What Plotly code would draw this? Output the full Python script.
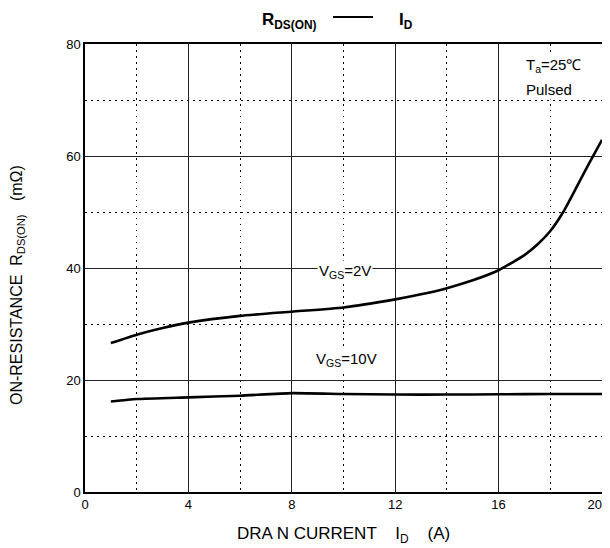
import plotly.graph_objects as go

# Data
id_2v = [1, 2, 3, 4, 6, 8, 10, 12, 13, 14, 15, 16, 16.5, 17, 17.5, 18, 18.5, 19, 19.5, 20]
r_2v = [26.6, 28.1, 29.3, 30.25, 31.45, 32.2, 32.95, 34.4, 35.3, 36.4, 37.8, 39.6, 40.9,
        42.3, 44.2, 46.6, 50.0, 54.3, 58.7, 62.9]
id_10v = [1, 2, 4, 6, 8, 10, 12, 14, 16, 18, 20]
r_10v = [16.15, 16.6, 16.9, 17.2, 17.65, 17.5, 17.4, 17.4, 17.45, 17.5, 17.5]
x_ticks = [0, 4, 8, 12, 16, 20]
x_tick_labels = ["0", "4", "8", "12", "16", "20\u00a0\u00a0\u00a0\u00a0"]
x_minor = [2, 6, 10, 14, 18]
y_ticks = [0, 20, 40, 60, 80]
y_tick_labels = ["0", "20", "40", "60", "80"]
y_minor = [10, 30, 50, 70]

FONT = "Liberation Sans, Arial, sans-serif"
DOT = "1.5px,4.5px"

fig = go.Figure()
for xs, ys in [(id_2v, r_2v), (id_10v, r_10v)]:
    fig.add_trace(go.Scatter(x=xs, y=ys, mode="lines",
                             line=dict(color="black", width=2.6, shape="spline", smoothing=0.5),
                             showlegend=False, hoverinfo="skip"))

axis_common = dict(
    showline=True, linecolor="black", linewidth=1.5, mirror=True, automargin=False,
    showgrid=True, gridcolor="#222", gridwidth=1.2,
    zeroline=False, ticks="", tickfont=dict(family=FONT, size=13, color="black"),
)
fig.update_xaxes(range=[0, 20], tickvals=x_ticks, ticktext=x_tick_labels,
                 ticklabeloverflow="allow",
                 minor=dict(tickvals=x_minor, showgrid=True, gridcolor="black",
                            griddash=DOT, gridwidth=1.2),
                 **axis_common)
fig.update_yaxes(range=[0, 80], tickvals=y_ticks, ticktext=y_tick_labels,
                 minor=dict(tickvals=y_minor, showgrid=True, gridcolor="black",
                            griddash=DOT, gridwidth=1.2),
                 **axis_common)

# in-plot labels
annots = [
    dict(x=10.06, y=39.3, text="V<sub>GS</sub>=2V"),
    dict(x=10.1, y=23.6, text="V<sub>GS</sub>=10V"),
    dict(x=18.14, y=76.2, text="T<sub>a</sub>=25℃"),
    dict(x=17.95, y=71.8, text="Pulsed"),
]
for a in annots:
    fig.add_annotation(x=a["x"], y=a["y"], xref="x", yref="y", text=a["text"], showarrow=False,
                       bgcolor="white", borderpad=1,
                       font=dict(family=FONT, size=15, color="black"))

# axis titles
fig.add_annotation(xref="paper", yref="paper", x=0, y=0.462, xshift=-68, xanchor="center",
                   yanchor="middle", textangle=-90, showarrow=False,
                   text="ON-RESISTANCE  R<sub>DS(ON)</sub>   (mΩ)",
                   font=dict(family=FONT, size=16, color="black"))
fig.add_annotation(xref="paper", yref="paper", x=0.5, y=0, yshift=-43, xanchor="center",
                   yanchor="middle", showarrow=False,
                   text="DRA N CURRENT    I<sub>D</sub>    (A)",
                   font=dict(family=FONT, size=17, color="black"))

# chart title: R_DS(ON) —— I_D
fig.add_annotation(xref="paper", yref="paper", x=0.3385, y=1, yshift=23, xanchor="left",
                   yanchor="middle", showarrow=False, text="<b>R<sub>DS(ON)</sub></b>",
                   font=dict(family=FONT, size=17, color="black"))
fig.add_annotation(xref="paper", yref="paper", x=0.6035, y=1, yshift=23, xanchor="left",
                   yanchor="middle", showarrow=False, text="<b>I<sub>D</sub></b>",
                   font=dict(family=FONT, size=17, color="black"))
fig.add_shape(type="line", xref="paper", yref="paper", x0=0.4797, x1=0.557,
              y0=1 + 27 / 448, y1=1 + 27 / 448, line=dict(color="black", width=2))

fig.update_layout(width=602, height=540, margin=dict(l=77, r=8, t=36, b=56, autoexpand=False),
                  plot_bgcolor="white", paper_bgcolor="white")

fig.write_html("out.html")
